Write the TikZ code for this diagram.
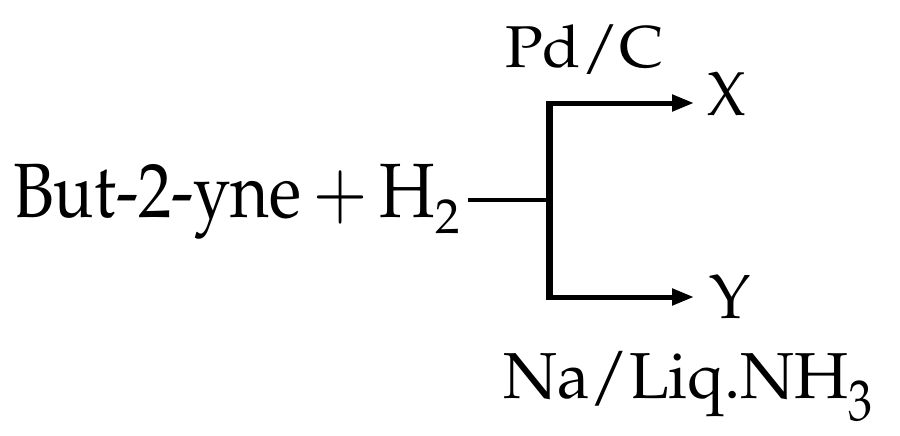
\documentclass[tikz,border=0pt]{standalone}
\usepackage[T1]{fontenc}
\usepackage{mathpazo}
\usepackage{graphicx}
\usetikzlibrary{arrows.meta}
\tikzset{
  lbl/.style={inner sep=0pt, anchor=base west},
  conn/.style={line width=5pt},
  arr/.style={conn, -{Triangle[length=22pt,width=16pt]}}
}
\begin{document}
\begin{tikzpicture}[x=1pt,y=-1pt]
\useasboundingbox (0,0) rectangle (900,436);
\node[lbl, font=\fontsize{77}{80}\selectfont] (r) at (13,217) {\scalebox{0.867}[1]{But-2-yne\,$+$\,H}\raisebox{-16pt}{\fontsize{49}{52}\selectfont 2}};
\coordinate (s) at (468,200);
\coordinate (j) at (549.5,200);
\coordinate (t) at (549.5,103);
\coordinate (b) at (549.5,297);
\node[lbl, font=\fontsize{62}{65}\selectfont] (x) at (707,115) {\scalebox{0.93}[1]{X}};
\node[lbl, font=\fontsize{62}{65}\selectfont] (y) at (709,318) {Y};
\coordinate (xt) at (694,103);
\coordinate (yt) at (694,297);
\node[lbl, font=\fontsize{59}{62}\selectfont] (pd) at (505,67) {\scalebox{1.06}[1]{Pd/C}};
\node[lbl, font=\fontsize{65}{68}\selectfont] (na) at (503,398) {Na/Liq.NH\raisebox{-22pt}{\scalebox{1}[1.2]{\fontsize{48}{50}\selectfont 3}}};
\draw[line width=4pt] (s) -- (j);
\draw[line width=6.5pt] ([yshift=-2.5pt]t) -- ([yshift=2.5pt]b);
\draw[arr] ([xshift=-3.25pt]t) -- (xt);
\draw[arr] ([xshift=-3.25pt]b) -- (yt);
\end{tikzpicture}
\end{document}
